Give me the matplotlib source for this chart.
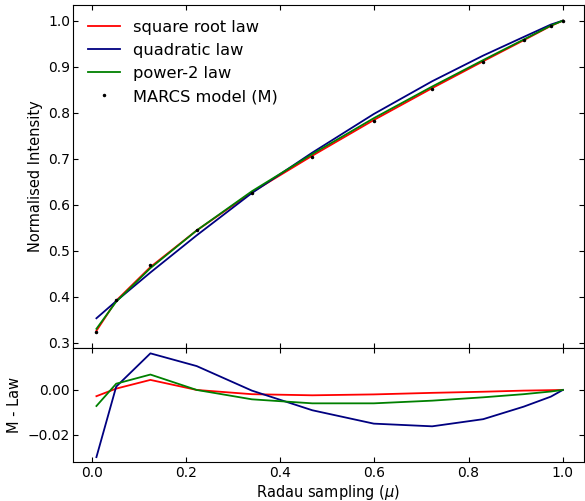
import numpy as np
import matplotlib
matplotlib.use("Agg")
import matplotlib.pyplot as plt
from matplotlib.ticker import MultipleLocator

# Radau mu sampling and MARCS intensities
mu = np.array([0.0100, 0.0520, 0.1246, 0.2228, 0.3400, 0.4682,
               0.5988, 0.7227, 0.8310, 0.9168, 0.9746, 1.0000])
I_marcs = np.array([0.323, 0.392, 0.469, 0.544, 0.625, 0.704,
                    0.782, 0.852, 0.911, 0.957, 0.9885, 1.000])

# residuals M - law
res_sqrt = np.array([-0.0028, 0.0006, 0.0045, 0.0000, -0.0019, -0.0024,
                     -0.0020, -0.0013, -0.0008, -0.0003, -0.0001, 0.0])
res_quad = np.array([-0.0301, 0.0015, 0.0164, 0.0107, -0.0003, -0.0091,
                     -0.0151, -0.0163, -0.0131, -0.0075, -0.0030, 0.0])
res_pow2 = np.array([-0.0072, 0.0028, 0.0069, 0.0000, -0.0042, -0.0060,
                     -0.0060, -0.0048, -0.0033, -0.0019, -0.0007, 0.0])

plt.rcParams["font.size"] = 10
plt.rcParams["axes.labelsize"] = 10.5

fig = plt.figure(figsize=(5.85, 5.01), dpi=100)
ax1 = fig.add_axes([0.1248, 0.3054, 0.8735, 0.6846])
ax2 = fig.add_axes([0.1248, 0.0778, 0.8735, 0.2276], sharex=ax1)

ax1.plot(mu, I_marcs - res_sqrt, color="red", lw=1.3, label="square root law")
ax1.plot(mu, I_marcs - res_quad, color="navy", lw=1.3, label="quadratic law")
ax1.plot(mu, I_marcs - res_pow2, color="green", lw=1.3, label="power-2 law")
ax1.plot(mu, I_marcs, "k.", ms=3, label="MARCS model (M)")
ax1.set_ylabel("Normalised Intensity")
ax1.set_ylim(0.2885, 1.034)
ax1.legend(loc="upper left", frameon=False, fontsize=11.7)
plt.setp(ax1.get_xticklabels(), visible=False)

ax2.plot(mu, res_sqrt, color="red", lw=1.3)
ax2.plot(mu, res_quad, color="navy", lw=1.3)
ax2.plot(mu, res_pow2, color="green", lw=1.3)
ax2.set_ylabel("M - Law")
ax2.set_xlabel(r"Radau sampling ($\mu$)", labelpad=2)
ax2.set_ylim(-0.0323, 0.0188)
ax2.yaxis.set_major_locator(MultipleLocator(0.02))
ax2.set_xlim(-0.0397, 1.045)

for ax in (ax1, ax2):
    ax.tick_params(direction="in", top=True, right=True)
    ax.tick_params(axis="y", pad=2)
    ax.tick_params(axis="x", pad=3)

fig.savefig("out.png", dpi=100)
